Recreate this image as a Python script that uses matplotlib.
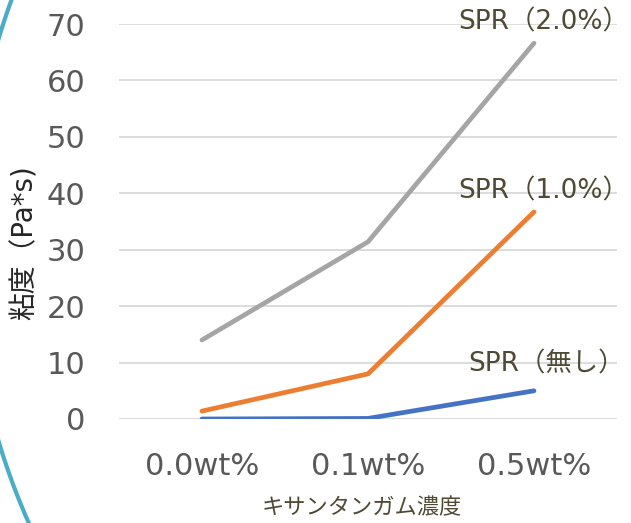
import matplotlib
matplotlib.use("Agg")
import matplotlib.pyplot as plt
from matplotlib.patches import Ellipse

# data
categories = ["0.0wt%", "0.1wt%", "0.5wt%"]
spr_none = [0.0, 0.1, 5.0]
spr_1 = [1.4, 8.0, 36.7]
spr_2 = [14.0, 31.4, 66.6]
series_labels = ["SPR（無し）", "SPR（1.0%）", "SPR（2.0%）"]
y_ticks = [0, 10, 20, 30, 40, 50, 60, 70]

plt.rcParams['font.family'] = ['DejaVu Sans', 'Noto Sans CJK JP']

fig = plt.figure(figsize=(6.31, 5.23), dpi=100)
ax = fig.add_axes([119/631, 104/523, 498/631, 395/523])

x = list(range(len(categories)))
colors = ['#4472C4', '#ED7D31', '#A5A5A5']
# label offsets (pixels) from the last point of each line
offsets = [(12, 26), (10, 20), (10, 21)]
for ys, lab, c, off in zip([spr_none, spr_1, spr_2], series_labels, colors, offsets):
    ax.plot(x, ys, color=c, lw=3.4, solid_capstyle='round', solid_joinstyle='round', zorder=3)
    ax.annotate(lab, (x[-1], ys[-1]), xytext=off, textcoords='offset pixels',
                ha='center', va='center', fontsize=19, color='#4f4a33', zorder=4)

ax.set_xlim(-0.5, 2.5)
ax.set_ylim(0, 70)
ax.set_yticks(y_ticks)
ax.set_xticks(x)
ax.set_xticklabels(categories)
ax.grid(axis='y', color='#d9d9d9', lw=1.3)
ax.set_axisbelow(True)
for s in ax.spines.values():
    s.set_visible(False)
ax.tick_params(length=0, labelsize=22, labelcolor='#595959')
ax.tick_params(axis='y', pad=24)
ax.tick_params(axis='x', pad=24)

fig.text(25/631, 1 - 243/523, "粘度（Pa*s)", rotation=90, ha='center', va='center',
         fontsize=20, color='#262626')
fig.text(362/631, 1 - 508/523, "キサンタンガム濃度", ha='center', va='center',
         fontsize=16, color='#4f4a33')

# teal rounded frame on the left edge
fig.add_artist(Ellipse((669/631, 283/523), 1400/631, 1400/523, transform=fig.transFigure,
                       fill=False, ec='#4BACC6', lw=3))

fig.savefig("out.png", dpi=100)
